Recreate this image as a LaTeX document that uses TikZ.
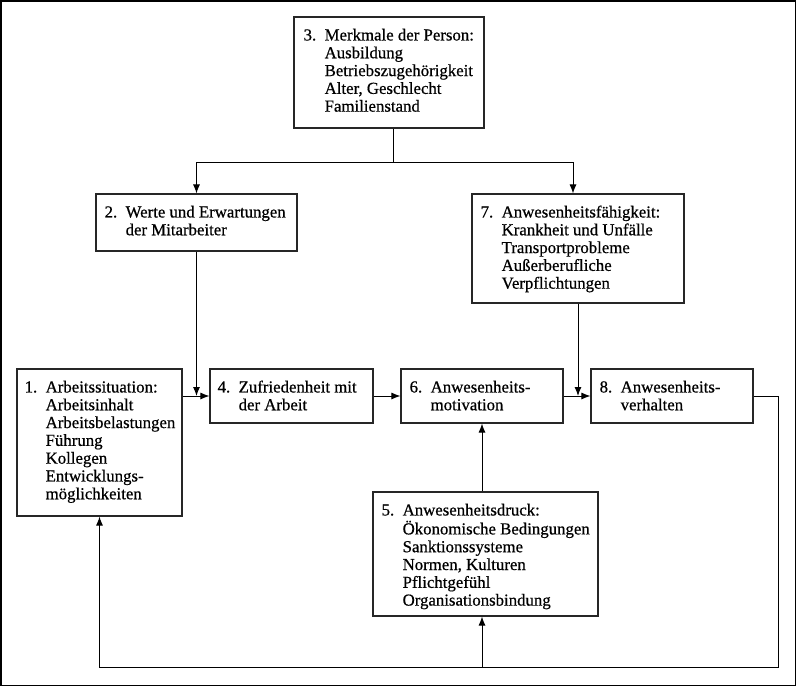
\documentclass[tikz,border=0pt]{standalone}
\usepackage{fontspec}
\setmainfont[UprightFeatures={FakeBold=0.6}]{Liberation Serif}
\usetikzlibrary{arrows.meta,calc,fit}
\newcommand{\btab}[1]{\begin{tabular}[t]{@{}p{21pt}@{}l@{}}#1\end{tabular}}
\begin{document}
\begin{tikzpicture}[x=1pt,y=-1pt,
  frame/.style={draw=black!85,line width=1.1pt,inner sep=0pt},
  conn/.style={line width=1pt},
  arr/.style={conn,-{Latex[length=9pt,width=7pt]}},
  txt/.style={anchor=base west,inner sep=0pt,font=\fontsize{16.8}{17.8}\selectfont}]
\useasboundingbox (0,0) rectangle (796,686);
\draw[line width=1.5pt] (0.75,0.75) rectangle (795.25,685.25);
% boxes
\node[frame,fit={(294,17) (484,128)}] (b3) {};
\node[frame,fit={(96,194) (297,251)}] (b2) {};
\node[frame,fit={(472,194) (684,303)}] (b7) {};
\node[frame,fit={(17,369) (182,516)}] (b1) {};
\node[frame,fit={(210,369) (373,423)}] (b4) {};
\node[frame,fit={(401,369) (563,423)}] (b6) {};
\node[frame,fit={(591,369) (753,423)}] (b8) {};
\node[frame,fit={(373,492) (598,616)}] (b5) {};
% texts
\node[txt] (t3) at ($(b3.north west)+(10,24)$) {\btab{3.&Merkmale der Person:\\&Ausbildung\\&Betriebszugehörigkeit\\&Alter, Geschlecht\\&Familienstand}};
\node[txt] (t2) at ($(b2.north west)+(9,24)$) {\btab{2.&Werte und Erwartungen\\&der Mitarbeiter}};
\node[txt] (t7) at ($(b7.north west)+(9,24)$) {\btab{7.&Anwesenheitsfähigkeit:\\&Krankheit und Unfälle\\&Transportprobleme\\&Außerberufliche\\&Verpflichtungen}};
\node[txt] (t1) at ($(b1.north west)+(8,24)$) {\btab{1.&Arbeitssituation:\\&Arbeitsinhalt\\&Arbeitsbelastungen\\&Führung\\&Kollegen\\&Entwicklungs-\\&möglichkeiten}};
\node[txt] (t4) at ($(b4.north west)+(8,24)$) {\btab{4.&Zufriedenheit mit\\&der Arbeit}};
\node[txt] (t6) at ($(b6.north west)+(9,24)$) {\btab{6.&Anwesenheits-\\&motivation}};
\node[txt] (t8) at ($(b8.north west)+(9,24)$) {\btab{8.&Anwesenheits-\\&verhalten}};
\node[txt] (t5) at ($(b5.north west)+(9,24)$) {\btab{5.&Anwesenheitsdruck:\\&Ökonomische Bedingungen\\&Sanktionssysteme\\&Normen, Kulturen\\&Pflichtgefühl\\&Organisationsbindung}};
% coordinates
\coordinate (s3) at (393,162);
\coordinate (k2) at (196.5,162);
\coordinate (k7) at (573,162);
\coordinate (fr) at (778,667);
% connectors
\draw[conn] (b3.south -| s3) -- (s3);
\draw[conn] (k2) -- (k7);
\draw[arr] (k2) -- (k2 |- b2.north);
\draw[arr] (k7) -- (k7 |- b7.north);
\draw[arr] (b1.east |- b4.west) -- (b4.west);
\draw[arr] (b4.east) -- (b6.west);
\draw[arr] (b6.east) -- (b8.west);
\draw[arr] (b2.south) -- (b2.south |- b4.west);
\draw[arr] (b7.south) -- (b7.south |- b8.west);
\draw[arr] (b6.south |- b5.north) -- (b6.south);
\draw[arr] (b8.east) -| (fr) -| (b1.south);
\draw[arr] (b6.south |- fr) -- (b6.south |- b5.south);
\end{tikzpicture}
\end{document}
